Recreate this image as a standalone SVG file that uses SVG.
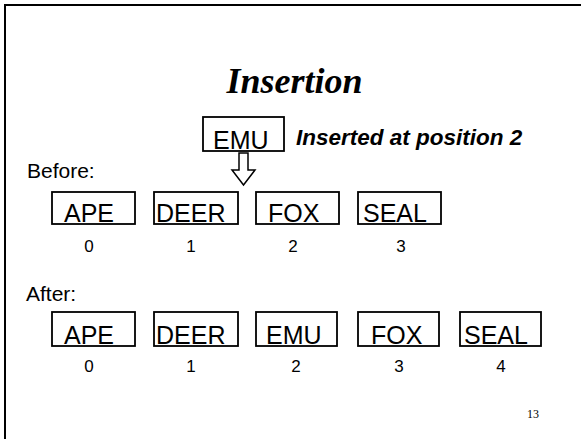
<svg xmlns="http://www.w3.org/2000/svg" width="581" height="439" viewBox="0 0 581 439">
<style>
.box{fill:#fff;stroke:#000;stroke-width:1.8}
.t{font-family:"Liberation Sans",Arial,sans-serif;font-size:25px;fill:#000}
.idx{font-family:"Liberation Sans",Arial,sans-serif;font-size:17px;fill:#000;text-anchor:middle}
.lbl{font-family:"Liberation Sans",Arial,sans-serif;font-size:21px;fill:#000}
</style>
<rect width="581" height="439" fill="#fff"/>
<g id="frame" fill="none" stroke="#000" stroke-width="2">
<path d="M5,439 V5 H581"/>
</g>
<text id="title" x="294.5" y="93" text-anchor="middle" font-family="'Liberation Serif','Times New Roman',serif" font-size="36" font-weight="bold" font-style="italic">Insertion</text>
<g id="emu-new">
<rect class="box" x="203" y="117" width="81" height="34"/>
<text class="t" x="213" y="149">EMU</text>
</g>
<text id="note" x="296" y="145" font-family="'Liberation Sans',Arial,sans-serif" font-size="22.5" font-weight="bold" font-style="italic">Inserted at position 2</text>
<text id="before" class="lbl" x="27" y="178">Before:</text>
<g id="connectors">
<polygon points="239,153 248,153 248,170 255,170 243.5,185 232,170 239,170" fill="#fff" stroke="#000" stroke-width="1.5" stroke-linejoin="miter"/>
</g>
<g id="b0"><rect class="box" x="52" y="192" width="83" height="32"/><text class="t" x="64" y="222">APE</text><text class="idx" x="89" y="252">0</text></g>
<g id="b1"><rect class="box" x="154" y="192" width="84" height="32"/><text class="t" x="156" y="222">DEER</text><text class="idx" x="191" y="252">1</text></g>
<g id="b2"><rect class="box" x="256" y="192" width="83" height="32"/><text class="t" x="268" y="222">FOX</text><text class="idx" x="293" y="252">2</text></g>
<g id="b3"><rect class="box" x="358" y="192" width="83" height="32"/><text class="t" x="363" y="222">SEAL</text><text class="idx" x="401" y="252">3</text></g>
<text id="after" class="lbl" x="26" y="301">After:</text>
<g id="a0"><rect class="box" x="52" y="312" width="83" height="34"/><text class="t" x="64" y="344">APE</text><text class="idx" x="89" y="372">0</text></g>
<g id="a1"><rect class="box" x="154" y="312" width="84" height="34"/><text class="t" x="156" y="344">DEER</text><text class="idx" x="191" y="372">1</text></g>
<g id="a2"><rect class="box" x="256" y="312" width="81" height="34"/><text class="t" x="266" y="344">EMU</text><text class="idx" x="296" y="372">2</text></g>
<g id="a3"><rect class="box" x="358" y="312" width="81" height="34"/><text class="t" x="371" y="344">FOX</text><text class="idx" x="399" y="372">3</text></g>
<g id="a4"><rect class="box" x="460" y="312" width="81" height="34"/><text class="t" x="464" y="344">SEAL</text><text class="idx" x="501" y="372">4</text></g>
<text id="page" x="527" y="418" font-family="'Liberation Serif','Times New Roman',serif" font-size="12">13</text>
</svg>
